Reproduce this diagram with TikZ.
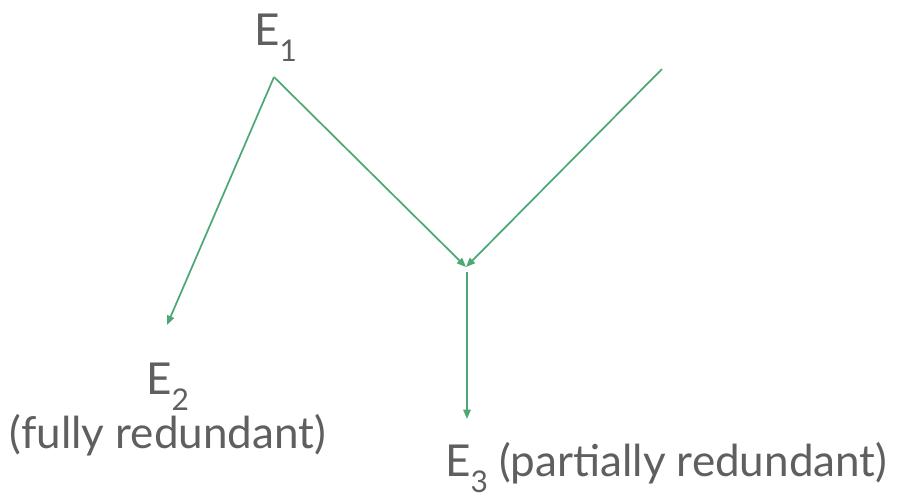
\documentclass[tikz,border=0pt]{standalone}
\usepackage{fontspec}
\setmainfont{Lato}
\usepackage{tikz}
\usetikzlibrary{arrows.meta,positioning}
\definecolor{edgegreen}{RGB}{77,168,117}
\definecolor{labelgray}{RGB}{95,95,95}
\newcommand{\lowsub}[1]{\raisebox{-0.38em}{\scalebox{0.68}{#1}}}

\begin{document}
\begin{tikzpicture}[x=0.75pt,y=-0.75pt,
		lbl/.style={inner sep=0pt,text=labelgray,font=\fontsize{33}{37}\selectfont},
		arr/.style={edgegreen,line width=1.3pt,-{Triangle[length=7pt,width=5.5pt]}}]
		\useasboundingbox (0,0) rectangle (901,494);
		% labels
		\node[lbl,anchor=base west] (e1) at (254,45) {E\lowsub{1}};
		\node[lbl,anchor=base west] (e2) at (146,394) {E\lowsub{2}};
		\node[lbl,anchor=base] (e2note) at (168,448) {(fully redundant)};
		\node[lbl,anchor=base west] (e3) at (445,476) {E\lowsub{3} (partially redundant)};
		% points on the edges
		\coordinate (top) at (274,77);
		\coordinate (src) at (662,69);
		\coordinate (mrg) at (466,267);
		\coordinate (out) at (467,272);
		\coordinate (e2tip) at (167,325);
		\coordinate (e3tip) at (467,419);
		% edges
		\draw[arr] (top) -- (e2tip);
		\draw[arr] (top) -- (mrg);
		\draw[arr] (src) -- (mrg);
		\draw[arr] (out) -- (e3tip);
	\end{tikzpicture}
\end{document}
